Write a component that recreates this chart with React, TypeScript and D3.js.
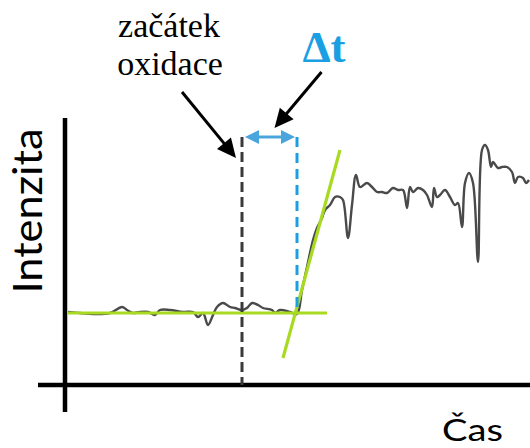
import React from "react";
import * as d3 from "d3";

// Measured signal: time (arbitrary units) and intensity (arbitrary units)
const time = [
  3, 15, 28, 45, 57, 62, 68, 75, 83, 90, 95, 105, 118, 128, 133, 138, 143, 148, 152, 158,
  165, 170, 177, 182, 187, 193, 198, 207, 210, 215, 225, 232,
  237, 242, 248, 252, 257, 260, 265, 270, 275, 278, 283, 287, 291, 295, 302, 307, 312, 317,
  322, 328, 333, 338, 342, 345, 348, 353, 358, 362, 367, 369, 372, 375, 380, 385, 390, 393,
  397, 400, 404, 408, 413, 417, 420, 423, 426, 428, 433, 437, 442, 447, 450, 453, 458, 461, 464,
];
const intensity = [
  73, 72, 71, 72, 78, 75, 72, 73, 73, 70, 75, 75, 73, 73, 68, 72, 60, 70, 78, 82,
  78, 77, 75, 77, 82, 80, 77, 75, 72, 75, 73, 71,
  95, 118, 145, 157, 167, 175, 180, 188, 188, 185, 147, 180, 210, 198, 202, 198, 193, 193,
  192, 197, 195, 195, 177, 198, 193, 197, 195, 190, 178, 197, 188, 190, 195, 188, 180, 182,
  158, 202, 212, 202, 123, 235, 240, 235, 218, 223, 217, 218, 218, 213, 202, 208, 207, 202, 205,
];

// Oxidation onset and the tangent construction
const onsetTime = 177;
const baselineLevel = 72;
const baselineFrom = 3;
const baselineTo = 262;
const tangentStart = [218, 27];
const tangentEnd = [275, 235];
const tangentCrossTime = 232;
const markerTop = 248;

const W = 530;
const H = 448;

export default function App() {
  const x = d3.scaleLinear().domain([0, 465]).range([65, 530]);
  const y = d3.scaleLinear().domain([0, 267]).range([385, 118]);

  const pts: [number, number][] = time.map((t, i) => [t, intensity[i]]);
  const line = d3
    .line<[number, number]>()
    .x((d) => x(d[0]))
    .y((d) => y(d[1]))
    .curve(d3.curveCatmullRom.alpha(0.5));

  const green = "#a8da22";
  const blue = "#1aa0e2";
  const lightBlue = "#4ba5dd";

  // Annotation arrows
  const onsetTip: [number, number] = [x(onsetTime) - 6, y(markerTop) + 21];
  const onsetTail: [number, number] = [onsetTip[0] - 54, onsetTip[1] - 66];
  const dtTip: [number, number] = [
    (x(onsetTime) + x(tangentCrossTime)) / 2 + 5,
    y(markerTop) - 9,
  ];
  const dtTail: [number, number] = [dtTip[0] + 47, dtTip[1] - 56];

  const arrowHead = (
    tail: [number, number],
    tip: [number, number],
    len: number,
    half: number
  ) => {
    const dx = tip[0] - tail[0];
    const dy = tip[1] - tail[1];
    const L = Math.hypot(dx, dy);
    const ux = dx / L;
    const uy = dy / L;
    const bx = tip[0] - ux * len;
    const by = tip[1] - uy * len;
    return `M${tip[0]},${tip[1]} L${bx - uy * half},${by + ux * half} L${bx + uy * half},${by - ux * half} Z`;
  };
  const shorten = (
    tail: [number, number],
    tip: [number, number],
    by: number
  ): [number, number] => {
    const dx = tip[0] - tail[0];
    const dy = tip[1] - tail[1];
    const L = Math.hypot(dx, dy);
    return [tip[0] - (dx / L) * by, tip[1] - (dy / L) * by];
  };

  const dA = x(onsetTime) + 3;
  const dB = x(tangentCrossTime) - 2;
  const dY = y(markerTop);

  return (
    <svg
      width={W}
      height={H}
      style={{ position: "absolute", left: 0, top: 0, background: "#fff" }}
    >
      {/* axes */}
      <line x1={x(0)} x2={x(0)} y1={y(267)} y2={y(-27)} stroke="#000" strokeWidth={4.5} />
      <line x1={x(-27)} x2={x(465)} y1={y(0)} y2={y(0)} stroke="#000" strokeWidth={4.5} />

      {/* signal */}
      <path d={line(pts) ?? ""} fill="none" stroke="#4a4a4a" strokeWidth={2.4} strokeLinejoin="round" />

      {/* baseline and tangent */}
      <line
        x1={x(baselineFrom)}
        x2={x(baselineTo)}
        y1={y(baselineLevel)}
        y2={y(baselineLevel)}
        stroke={green}
        strokeWidth={3.2}
      />
      <line
        x1={x(tangentStart[0])}
        y1={y(tangentStart[1])}
        x2={x(tangentEnd[0])}
        y2={y(tangentEnd[1])}
        stroke={green}
        strokeWidth={3.2}
      />

      {/* onset and intersection markers */}
      <line
        x1={x(onsetTime)}
        x2={x(onsetTime)}
        y1={y(markerTop)}
        y2={y(0)}
        stroke="#3a3a3a"
        strokeWidth={3}
        strokeDasharray="10 5"
      />
      <line
        x1={x(tangentCrossTime)}
        x2={x(tangentCrossTime)}
        y1={y(markerTop)}
        y2={y(baselineLevel)}
        stroke={blue}
        strokeWidth={3}
        strokeDasharray="10 6"
      />

      {/* Δt double arrow */}
      <line x1={dA + 10} x2={dB - 10} y1={dY} y2={dY} stroke={lightBlue} strokeWidth={3} />
      <path d={arrowHead([dB, dY], [dA, dY], 14, 7)} fill={lightBlue} />
      <path d={arrowHead([dA, dY], [dB, dY], 14, 7)} fill={lightBlue} />

      {/* annotation arrows */}
      <line
        x1={onsetTail[0]}
        y1={onsetTail[1]}
        x2={shorten(onsetTail, onsetTip, 14)[0]}
        y2={shorten(onsetTail, onsetTip, 14)[1]}
        stroke="#000"
        strokeWidth={3}
      />
      <path d={arrowHead(onsetTail, onsetTip, 19, 9)} fill="#000" />
      <line
        x1={dtTail[0]}
        y1={dtTail[1]}
        x2={shorten(dtTail, dtTip, 14)[0]}
        y2={shorten(dtTail, dtTip, 14)[1]}
        stroke="#000"
        strokeWidth={3}
      />
      <path d={arrowHead(dtTail, dtTip, 19, 9)} fill="#000" />

      {/* labels */}
      <text
        x={169}
        y={37}
        textAnchor="middle"
        fontFamily="'Liberation Serif', serif"
        fontSize={34}
        fill="#000"
      >
        začátek
      </text>
      <text
        x={170}
        y={75}
        textAnchor="middle"
        fontFamily="'Liberation Serif', serif"
        fontSize={34}
        fill="#000"
      >
        oxidace
      </text>
      <text
        x={324}
        y={62}
        textAnchor="middle"
        fontFamily="'Liberation Serif', serif"
        fontWeight="bold"
        fontSize={45}
        fill={blue}
      >
        Δt
      </text>
      <text
        transform="translate(42,211) rotate(-90)"
        textAnchor="middle"
        fontFamily="Lato, 'Open Sans', sans-serif"
        fontSize={41}
        textLength={165}
        lengthAdjust="spacingAndGlyphs"
        fill="#000"
      >
        Intenzita
      </text>
      <text
        x={442}
        y={441}
        fontFamily="Lato, 'Open Sans', sans-serif"
        fontSize={30}
        textLength={61}
        lengthAdjust="spacingAndGlyphs"
        fill="#000"
      >
        Čas
      </text>
    </svg>
  );
}
